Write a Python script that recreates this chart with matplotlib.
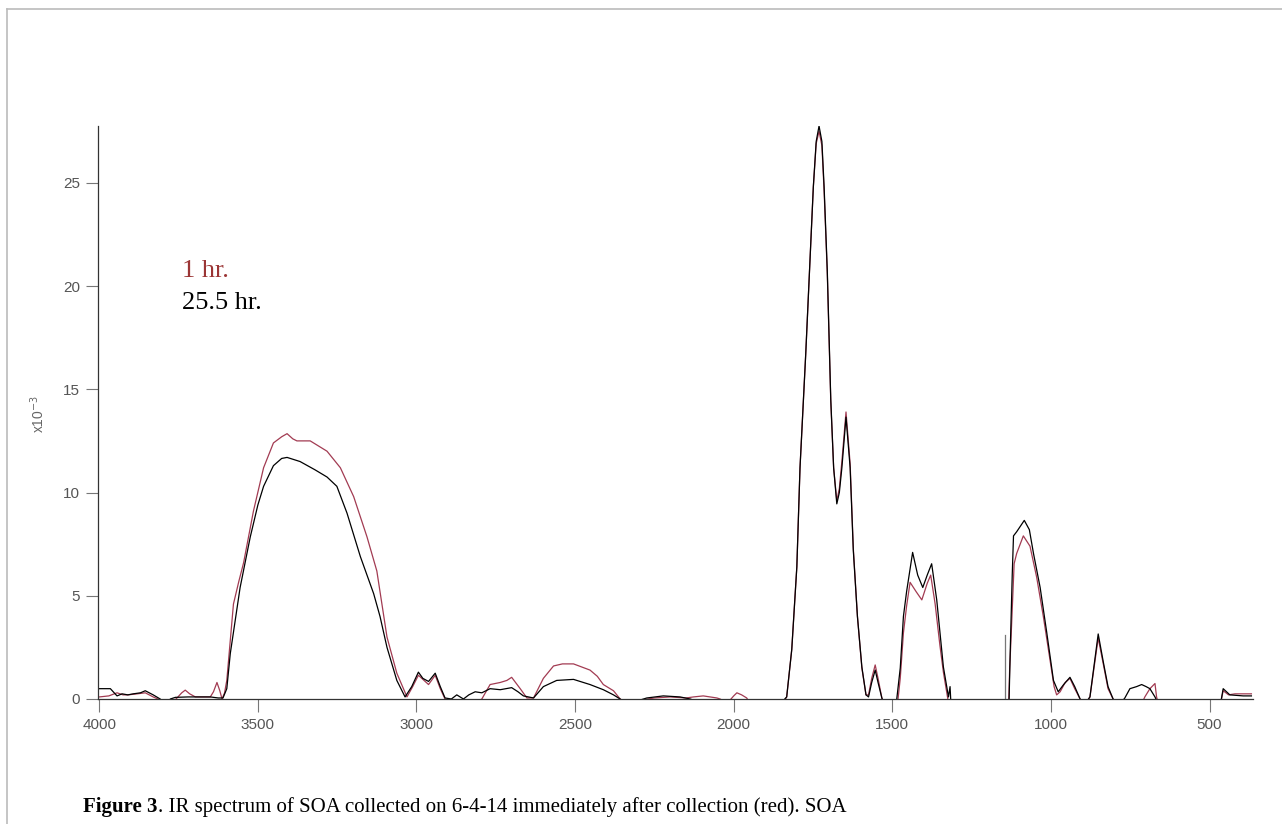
import numpy as np
import matplotlib
matplotlib.use("Agg")
import matplotlib.pyplot as plt
from matplotlib.lines import Line2D

# IR spectra (absorbance in units of 1e-3)
# negative values are where the trace dips below the plotted range
wn_25hr = [4000, 3985, 3965, 3944, 3928, 3910, 3893, 3870, 3855, 3830, 3808, 3790,
           3776, 3760, 3720, 3690, 3650, 3625, 3610, 3598, 3587, 3556, 3524, 3500,
           3482, 3451, 3425, 3408, 3367, 3320, 3282, 3251, 3219, 3177, 3135, 3115,
           3093, 3062, 3036, 3015, 2994, 2980, 2962, 2941, 2925, 2910, 2890, 2873,
           2852, 2835, 2815, 2794, 2768, 2736, 2700, 2680, 2663, 2631, 2600, 2558,
           2505, 2453, 2411, 2379, 2358, 2330, 2295, 2274, 2222, 2169, 2137, 2100,
           1845, 1833, 1817, 1801, 1791, 1780, 1773, 1761, 1749, 1740, 1731, 1722,
           1715, 1705, 1698, 1694, 1685, 1675, 1667, 1659, 1646, 1633, 1623, 1610,
           1596, 1583, 1575, 1565, 1554, 1545, 1533, 1520, 1500, 1486, 1475, 1465,
           1455, 1436, 1420, 1404, 1390, 1376, 1360, 1339, 1323, 1318, 1315, 1300,
           1140, 1132, 1128, 1122, 1118, 1108, 1097, 1084, 1068, 1055, 1034, 1013,
           992, 977, 960, 940, 925, 908, 895, 877, 865, 851, 835, 820, 804, 785,
           767, 751, 730, 714, 700, 688, 672, 660, 465, 457, 436, 394, 368]
abs_25hr = [0.5, 0.5, 0.5, 0.15, 0.25, 0.2, 0.25, 0.3, 0.4, 0.2, 0.0, -0.3,
            0.0, 0.08, 0.1, 0.1, 0.1, 0.05, 0.05, 0.5, 2.2, 5.4, 7.85, 9.4,
            10.3, 11.3, 11.65, 11.7, 11.5, 11.1, 10.75, 10.3, 9.0, 6.9, 5.1, 4.0,
            2.5, 0.9, 0.1, 0.6, 1.3, 1.0, 0.85, 1.25, 0.6, 0.05, 0.0, 0.2,
            0.0, 0.2, 0.35, 0.3, 0.5, 0.45, 0.55, 0.35, 0.15, 0.05, 0.6, 0.9,
            0.95, 0.7, 0.45, 0.2, 0.0, -0.3, -0.05, 0.05, 0.15, 0.1, 0.0, -0.2,
            -0.1, 0.1, 2.4, 6.4, 11.2, 14.5, 16.7, 20.75, 24.8, 27.0, 27.75, 27.0,
            24.8, 20.75, 16.7, 14.5, 11.2, 9.45, 10.0, 11.2, 13.65, 11.2, 7.2, 4.0,
            1.55, 0.2, 0.1, 0.8, 1.4, 0.8, 0.05, -0.5, -0.5, 0.0, 1.5, 4.0,
            5.2, 7.1, 6.0, 5.4, 6.0, 6.55, 4.8, 1.55, 0.1, 0.6, -0.3, -0.5,
            -0.5, -0.1, 2.5, 6.0, 7.9, 8.1, 8.35, 8.65, 8.2, 7.05, 5.4, 3.2,
            0.9, 0.35, 0.7, 1.05, 0.6, 0.0, -0.3, 0.1, 1.5, 3.15, 1.8, 0.6, 0.0, -0.3,
            0.05, 0.5, 0.6, 0.7, 0.6, 0.5, 0.1, -0.3, -0.2, 0.5, 0.2, 0.15, 0.15]

wn_1hr = [4000, 3970, 3944, 3925, 3910, 3880, 3855, 3830, 3815, 3795, 3765, 3755,
          3740, 3729, 3715, 3697, 3670, 3650, 3640, 3629, 3620, 3613, 3605, 3598,
          3577, 3560, 3545, 3514, 3482, 3451, 3425, 3408, 3390, 3377, 3335, 3282,
          3240, 3198, 3156, 3125, 3093, 3062, 3030, 3012, 2994, 2962, 2941, 2925,
          2910, 2890, 2810, 2794, 2768, 2736, 2715, 2700, 2673, 2652, 2631, 2600,
          2568, 2540, 2505, 2453, 2430, 2411, 2379, 2358, 2330, 2290, 2250, 2200,
          2150, 2127, 2096, 2053, 2043, 2020, 2000, 1990, 1975, 1959, 1950, 1845,
          1833, 1817, 1801, 1791, 1780, 1773, 1761, 1749, 1740, 1731, 1722, 1715,
          1705, 1698, 1694, 1685, 1675, 1667, 1659, 1646, 1633, 1623, 1610, 1596,
          1583, 1575, 1565, 1554, 1545, 1533, 1520, 1490, 1482, 1475, 1465, 1455,
          1444, 1425, 1407, 1390, 1379, 1365, 1350, 1339, 1325, 1310, 1140, 1133,
          1130, 1127, 1120, 1116, 1108, 1087, 1066, 1045, 1024, 1003, 990, 982,
          971, 955, 940, 925, 908, 895, 877, 865, 851, 835, 820, 804, 785,
          710, 704, 688, 672, 667, 660, 465, 457, 440, 420, 394, 368]
abs_1hr = [0.1, 0.15, 0.3, 0.2, 0.2, 0.25, 0.3, 0.1, 0.0, -0.3, -0.1, 0.05,
           0.3, 0.43, 0.25, 0.1, 0.1, 0.1, 0.35, 0.8, 0.4, 0.0, 0.3, 0.9,
           4.6, 5.7, 6.6, 9.1, 11.2, 12.4, 12.7, 12.85, 12.6, 12.5, 12.5, 12.0,
           11.2, 9.8, 7.85, 6.2, 3.0, 1.25, 0.1, 0.6, 1.15, 0.7, 1.15, 0.5,
           0.0, -0.3, -0.2, 0.0, 0.7, 0.8, 0.9, 1.05, 0.5, 0.05, 0.05, 1.0,
           1.6, 1.7, 1.7, 1.4, 1.1, 0.7, 0.4, 0.0, -0.3, -0.05, 0.05, 0.1,
           0.05, 0.1, 0.15, 0.05, 0.0, -0.2, 0.15, 0.3, 0.2, 0.05, -0.2, -0.2,
           0.1, 2.4, 6.4, 11.2, 14.5, 16.7, 20.75, 24.8, 26.9, 27.5, 26.8, 24.6,
           20.6, 16.6, 14.4, 11.2, 9.6, 10.2, 11.5, 13.9, 11.4, 7.3, 4.0, 1.5,
           0.2, 0.2, 1.0, 1.65, 1.0, 0.05, -0.5, -0.5, 0.0, 1.0, 3.2, 4.5,
           5.65, 5.2, 4.8, 5.6, 6.0, 4.6, 2.6, 1.3, 0.0, -0.5, -0.5, -0.1,
           1.5, 2.5, 5.1, 6.55, 7.05, 7.9, 7.4, 5.9, 4.0, 1.9, 0.6, 0.2,
           0.35, 0.8, 1.0, 0.5, 0.0, -0.3, 0.1, 1.4, 2.95, 1.7, 0.5, 0.0, -0.3,
           -0.1, 0.1, 0.5, 0.75, 0.1, -0.3, -0.2, 0.4, 0.2, 0.25, 0.25, 0.25]

# stray spike near 1146 cm-1
spike_wn = [1146, 1146]
spike_abs = [0.0, 3.1]

x_ticks = [4000, 3500, 3000, 2500, 2000, 1500, 1000, 500]
y_ticks = [0, 5, 10, 15, 20, 25]

W, H = 1282, 824
fig = plt.figure(figsize=(W / 100, H / 100), dpi=100)
ax = fig.add_axes([98 / W, 1 - 699 / H, (1253 - 98) / W, (699 - 126) / H])

red = '#a23b52'
ax.plot(wn_1hr, abs_1hr, color=red, lw=0.9)
ax.plot(wn_25hr, abs_25hr, color='black', lw=0.9)
ax.plot(spike_wn, spike_abs, color='#777777', lw=0.9)

ax.set_xlim(4004, 363)
ax.set_ylim(0, 27.75)
ax.set_xticks(x_ticks)
ax.set_yticks(y_ticks)
ax.tick_params(direction='out', length=9, width=0.8, color='#777777',
               labelcolor='#555555', labelsize=11)
ax.tick_params(axis='x', pad=5)
ax.tick_params(axis='y', pad=4)
for lab in ax.get_xticklabels() + ax.get_yticklabels():
    lab.set_family('Liberation Sans')
for s in ['top', 'right']:
    ax.spines[s].set_visible(False)
for s in ['left', 'bottom']:
    ax.spines[s].set_color('#333333')
    ax.spines[s].set_linewidth(0.9)

fig.text(38 / W, 1 - 414 / H, r'x10$^{-3}$', rotation=90, ha='center', va='center',
         color='#666666', fontsize=10, family='Liberation Sans')

# legend text
fig.text(182 / W, 1 - 277 / H, '1 hr.', color='#9b3535', fontsize=19,
         family='Liberation Serif', va='baseline')
fig.text(182 / W, 1 - 309 / H, '25.5 hr.', color='black', fontsize=19,
         family='Liberation Serif', va='baseline')

# caption
cap_y = 1 - 812 / H
t1 = fig.text(83 / W, cap_y, 'Figure 3', fontsize=15, family='Liberation Serif',
              weight='bold', va='baseline')
fig.canvas.draw()
bb = t1.get_window_extent()
fig.text(bb.x1 / W, cap_y,
         '. IR spectrum of SOA collected on 6-4-14 immediately after collection (red). SOA',
         fontsize=15, family='Liberation Serif', va='baseline')

# page frame
fig.add_artist(Line2D([7 / W, 7 / W], [0, 1 - 9 / H], transform=fig.transFigure,
                      color='#bbbbbb', lw=1.2))
fig.add_artist(Line2D([7 / W, 1], [1 - 9 / H, 1 - 9 / H], transform=fig.transFigure,
                      color='#bbbbbb', lw=1.2))

fig.savefig('out.png', dpi=100)
